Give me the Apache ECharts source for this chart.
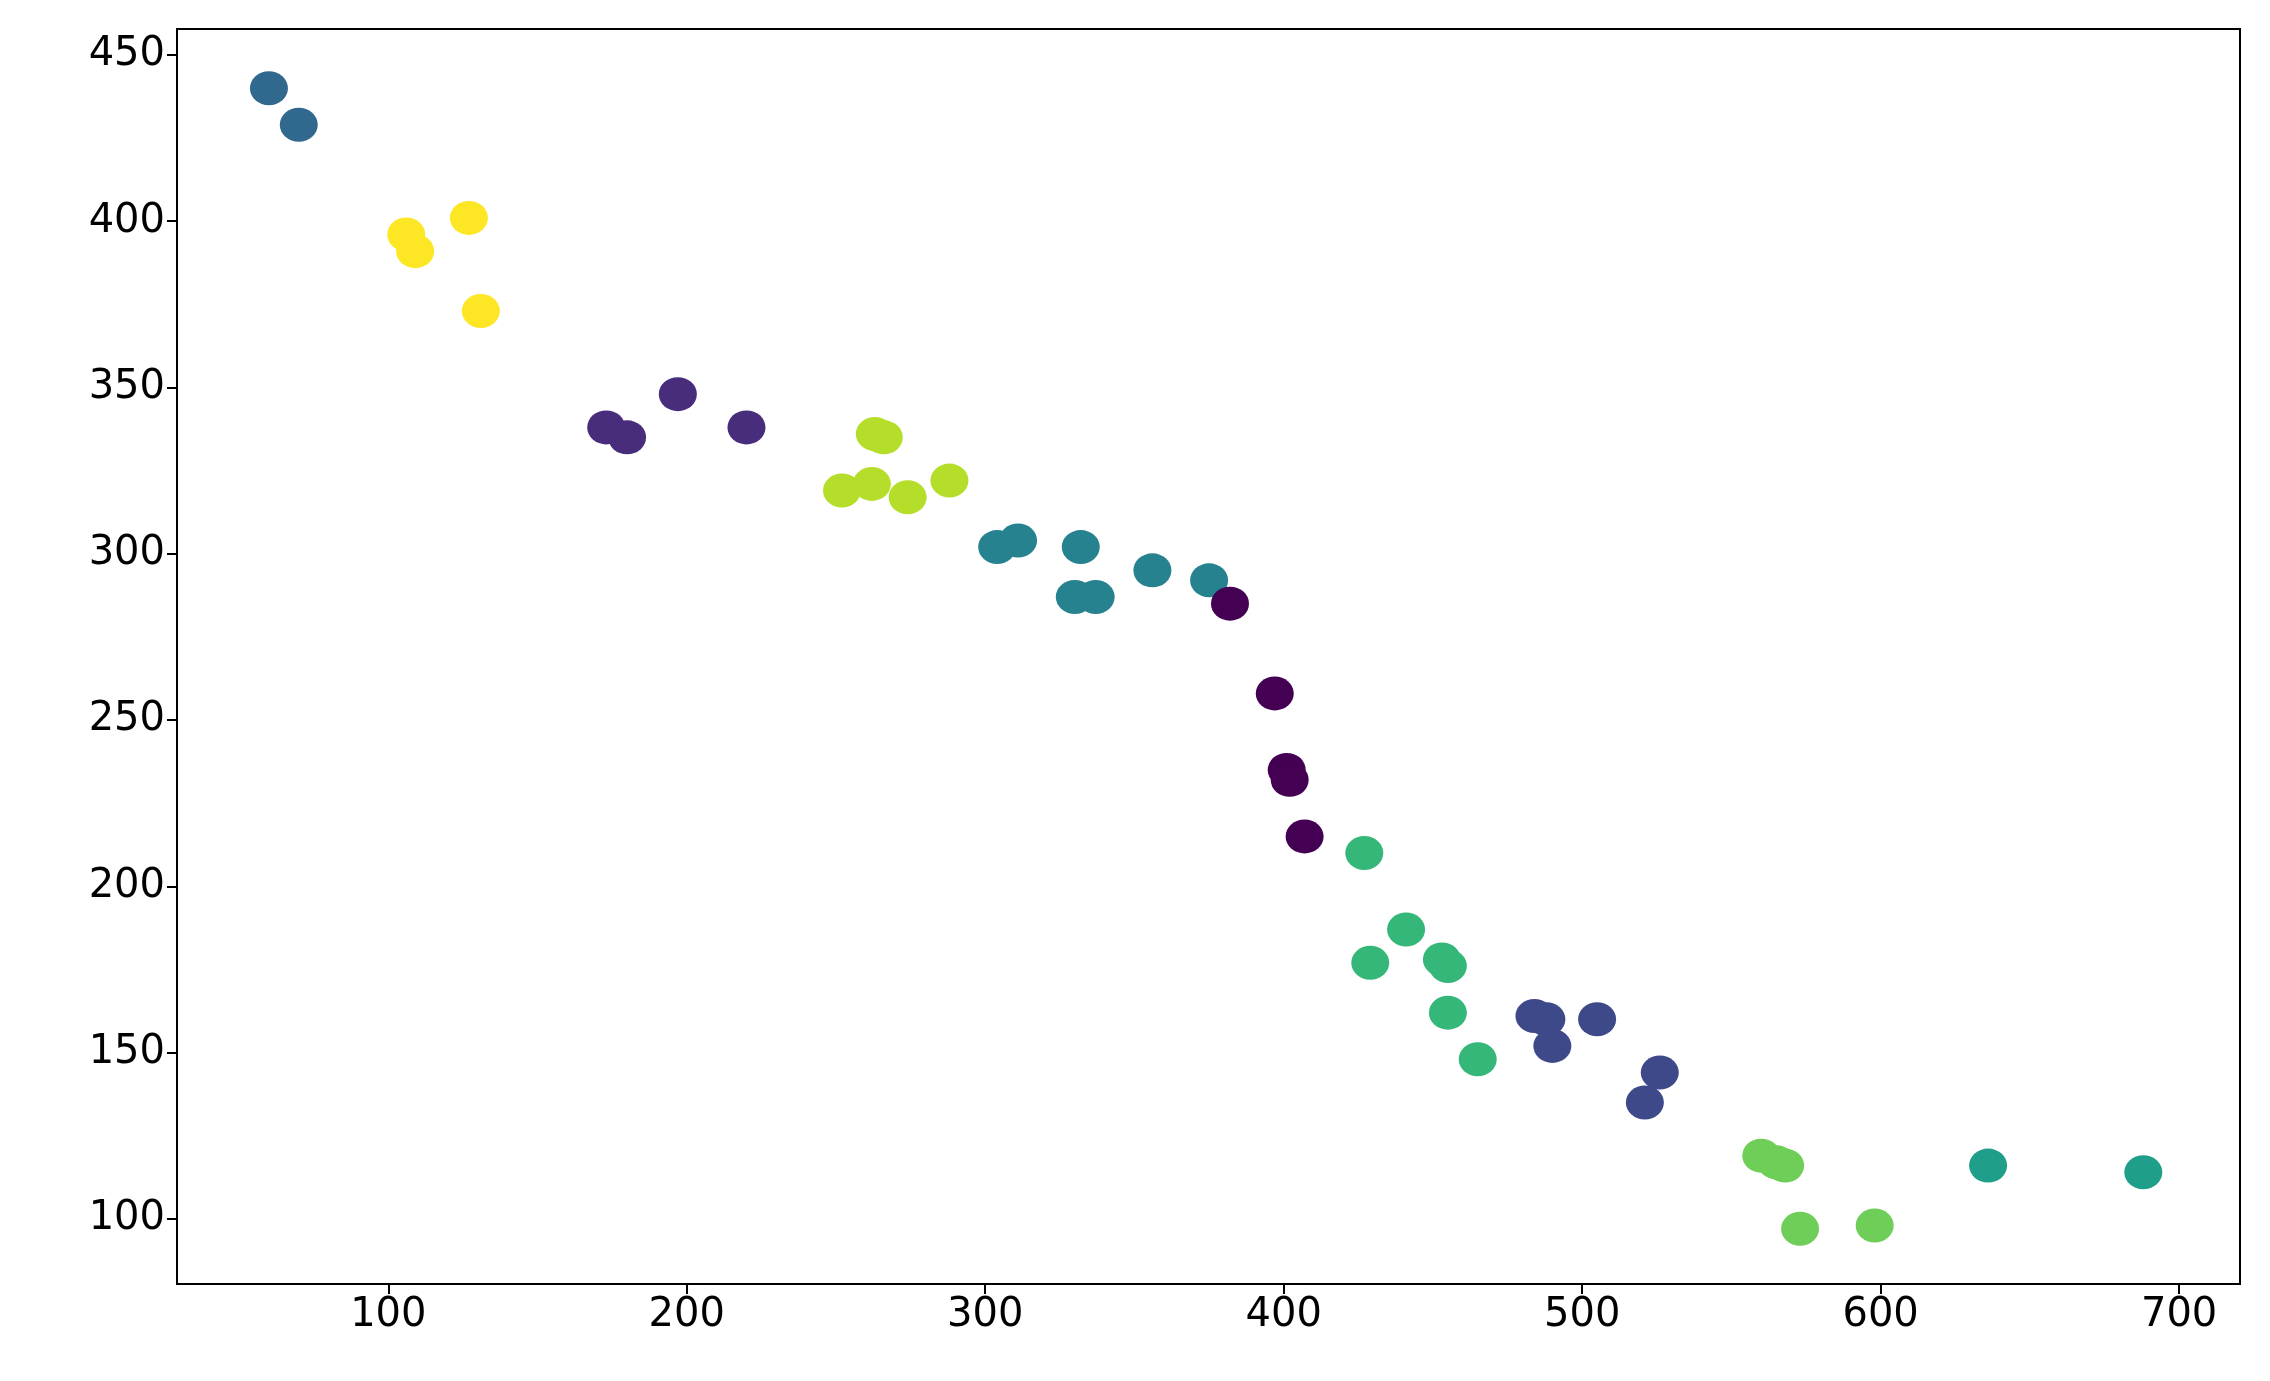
<!DOCTYPE html>
<html>
<head>
<meta charset="utf-8">
<script src="https://cdn.jsdelivr.net/npm/echarts@6/dist/echarts.min.js"></script>
<style>html,body{margin:0;padding:0;background:#fff;}#chart{width:2270px;height:1381px;}</style>
</head>
<body>
<div id="chart"></div>
<script>
//各组颜色
const groupColors = ['#31688e', '#fde725', '#472d7b', '#b5de2b', '#26828e', '#440154', '#35b779', '#3e4989', '#6ece58', '#1f9e89'];
//各组数据
const groupX = [
    [60, 70],
    [106, 109, 127, 131],
    [173, 180, 197, 220],
    [263, 266, 252, 262, 274, 288],
    [304, 311, 332, 356, 375, 330, 337],
    [382, 397, 401, 402, 407],
    [427, 441, 429, 453, 455, 455, 465],
    [484, 488, 505, 490, 526, 521],
    [560, 565, 568, 573, 598],
    [636, 688]
];
const groupY = [
    [440, 429],
    [396, 391, 401, 373],
    [338, 335, 348, 338],
    [336, 335, 319, 321, 317, 322],
    [302, 304, 302, 295, 292, 287, 287],
    [285, 258, 235, 232, 215],
    [210, 187, 177, 178, 176, 162, 148],
    [161, 160, 160, 152, 144, 135],
    [119, 117, 116, 97, 98],
    [116, 114]
];
const xTicks = [100, 200, 300, 400, 500, 600, 700];
const yTicks = [100, 150, 200, 250, 300, 350, 400, 450];

let chart = echarts.init(document.getElementById('chart'));
let series = groupX.map(function (xs, i) {
    return {
        type: 'scatter',
        symbolSize: [38, 34],
        itemStyle: { color: groupColors[i], opacity: 1 },
        data: xs.map(function (x, j) { return [x, groupY[i][j]]; })
    };
});
const axisLine = { show: true, onZero: false, lineStyle: { color: '#000', width: 2 } };
const tick = { show: true, length: 10, lineStyle: { color: '#000', width: 2 } };
const label = { color: '#000', fontSize: 40, fontFamily: 'DejaVu Sans', margin: 12 };
let option = {
    animation: false,
    grid: { left: 177, right: 30, top: 29, bottom: 97 },
    xAxis: {
        type: 'value', min: 29.2, max: 720.4,
        axisLine: axisLine, splitLine: { show: false },
        axisTick: Object.assign({}, tick, { customValues: xTicks }),
        axisLabel: Object.assign({}, label, { customValues: xTicks })
    },
    yAxis: {
        type: 'value', min: 80.4, max: 457.8,
        axisLine: axisLine, splitLine: { show: false },
        axisTick: Object.assign({}, tick, { customValues: yTicks }),
        axisLabel: Object.assign({}, label, { customValues: yTicks })
    },
    series: series
};
chart.setOption(option);
//上、右边框
let p0 = chart.convertToPixel('grid', [720.4, 457.8]);
let p1 = chart.convertToPixel('grid', [29.2, 80.4]);
chart.setOption({ graphic: [{ type: 'rect', shape: { x: p1[0], y: p0[1], width: p0[0] - p1[0], height: p1[1] - p0[1] },
    style: { fill: 'none', stroke: '#000', lineWidth: 2 }, silent: true }] });
</script>
</body>
</html>
